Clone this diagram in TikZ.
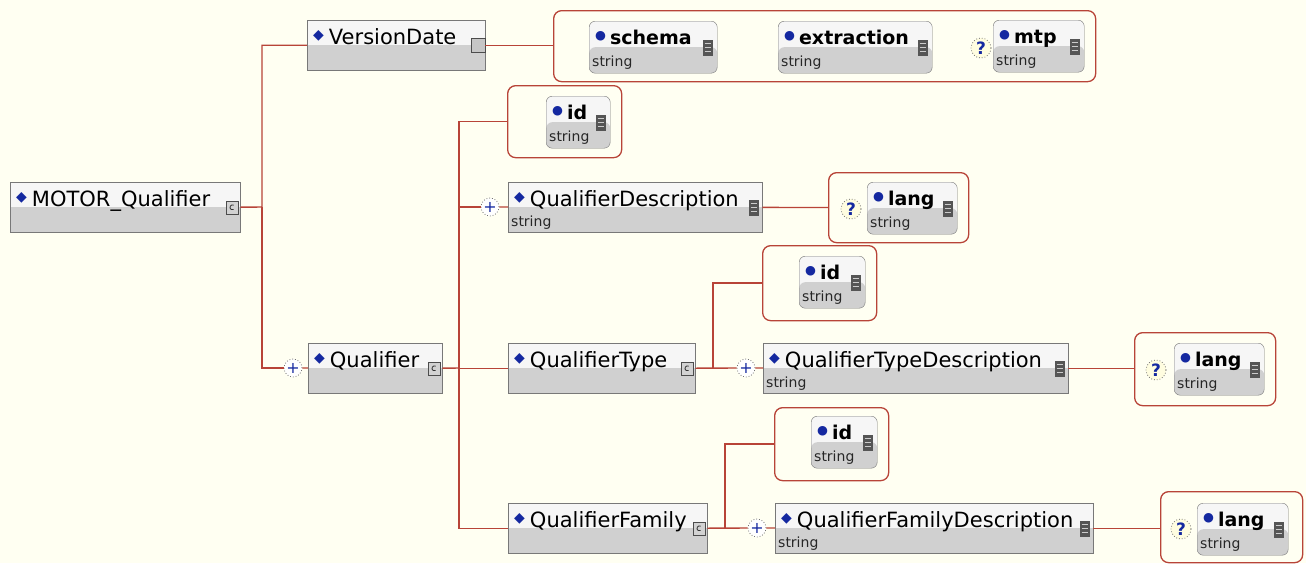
\documentclass[tikz,border=0pt]{standalone}
\usepackage{fontspec}
\setmainfont{DejaVu Sans}

\definecolor{bgcol}{RGB}{255,255,242}
\definecolor{linkred}{RGB}{184,68,56}
\definecolor{boxline}{RGB}{120,120,120}
\definecolor{boxtop}{RGB}{246,246,246}
\definecolor{boxgray}{RGB}{208,208,208}
\definecolor{xsblue}{RGB}{20,40,160}
\definecolor{icondark}{RGB}{85,85,85}

\newcommand{\xsdiam}{\raisebox{5pt}{\fontsize{14}{14}\selectfont\textcolor{xsblue}{◆}}}
\newcommand{\xsdot}{\raisebox{5pt}{\fontsize{12.5}{12}\selectfont\textcolor{xsblue}{●}}}

\begin{document}
\begin{tikzpicture}[
    x=1pt, y=1pt,
    elem/.style={draw=boxline,fill=boxtop,anchor=north west,inner sep=0pt,minimum height=50pt,
        path picture={\fill[boxgray] (path picture bounding box.west) rectangle (path picture bounding box.south east);}},
    attr/.style={elem,rounded corners=6pt,minimum height=52pt},
    grp/.style={draw=linkred,line width=1.3pt,rounded corners=8pt,anchor=north west,inner sep=0pt},
    etitle/.style={anchor=base west,inner sep=0pt,font=\fontsize{21}{24}\selectfont},
    atitle/.style={anchor=base west,inner sep=0pt,font=\fontsize{19}{22}\selectfont\bfseries},
    typ/.style={anchor=base west,inner sep=0pt,font=\fontsize{14}{16}\selectfont,text=black!85},
    sicon/.style={anchor=east,draw=icondark,fill=icondark,minimum width=9pt,minimum height=15pt,inner sep=0pt,
        path picture={\foreach \k in {-4,0,4}
            \draw[gray!40,line width=1pt] ([shift={(1.5,\k)}]path picture bounding box.west) -- ([shift={(-1.5,\k)}]path picture bounding box.east);}},
    cicon/.style={anchor=east,draw=gray!60!black,fill=gray!35,minimum width=12pt,minimum height=13pt,inner sep=0pt,
        path picture={\draw[black!80,line width=0.8pt] ([shift={(1.5,2)}]path picture bounding box.center) arc (60:300:2.5);}},
    vicon/.style={anchor=east,draw=gray!60!black,fill=gray!45,minimum size=14pt,inner sep=0pt},
    plus/.style={circle,draw=gray!90!black,dotted,line width=0.8pt,fill=white,minimum size=18pt,inner sep=0pt,text=xsblue,font=\fontsize{16}{16}\selectfont},
    optq/.style={circle,draw=gray!90!black,dotted,line width=0.8pt,fill=yellow!12,minimum size=20pt,inner sep=0pt,text=xsblue,font=\fontsize{17}{17}\selectfont\bfseries},
    link/.style={draw=linkred,line width=1.4pt}
]
\path[use as bounding box,fill=bgcol] (0,0) rectangle (1306,-563);

% attribute groups
\foreach \n/\x/\y/\w/\h in {vgrp/553/10/542/71, qidgrp/507/85/114/72, qdgrp/828/172/140/70,
    qtidgrp/762/245/114/75, qtgrp/1134/332/141/73, qfidgrp/774/407/114/73, qfgrp/1160/491/142/71}
    \node[grp,minimum width=\w,minimum height=\h] (\n) at (\x,-\y) {};

% elements
\foreach \n/\x/\y/\w/\t in {motor/10/182/230/MOTOR\_Qualifier, vdate/307/20/178/VersionDate,
    qual/308/343/134/Qualifier, qdesc/508/182/254/QualifierDescription,
    qtype/508/343/187/QualifierType, qtdesc/763/343/305/QualifierTypeDescription,
    qfam/508/503/199/QualifierFamily, qfdesc/775/503/318/QualifierFamilyDescription} {
    \node[elem,minimum width=\w] (\n) at (\x,-\y) {};
    \node[etitle] (\n-t) at ([shift={(6,-24)}]\n.north west) {\xsdiam\hspace{5pt}\t};
}
\foreach \n in {qdesc,qtdesc,qfdesc} {
    \node[typ] (\n-s) at ([shift={(3,-44)}]\n.north west) {string};
    \node[sicon] (\n-i) at ([xshift=-4]\n.east) {};
}
\foreach \n in {motor,qual,qtype,qfam}
    \node[cicon] (\n-i) at ([xshift=-2]\n.east) {};
\node[vicon] (vdate-i) at (vdate.east) {};

% attributes
\foreach \n/\x/\y/\w/\t in {schema/589/21/128/schema, extr/778/21/154/extraction, mtp/993/20/91/mtp,
    qid/546/96/64/id, qdlang/867/182/90/lang, qtid/799/256/66/id,
    qtlang/1174/343/90/lang, qfid/811/416/66/id, qflang/1197/503/91/lang} {
    \node[attr,minimum width=\w] (\n) at (\x,-\y) {};
    \node[atitle] (\n-t) at ([shift={(6,-23)}]\n.north west) {\xsdot\hspace{4pt}\t};
    \node[typ] (\n-s) at ([shift={(3,-45)}]\n.north west) {string};
    \node[sicon] (\n-i) at ([xshift=-5]\n.east) {};
}

% optional markers
\node[optq] (vq) at (981,-48) {?};
\node[optq] (qdq) at (851,-209) {?};
\node[optq] (qtq) at (1156,-370) {?};
\node[optq] (qfq) at (1181,-529) {?};
\node[plus] (qplus) at (293,-368) {+};
\node[plus] (qdplus) at (490,-207) {+};
\node[plus] (qtplus) at (746,-368) {+};
\node[plus] (qfplus) at (757,-528) {+};

% connectors
\coordinate (mj) at (262,-207);
\draw[link] (motor.east) -- (mj) |- (vdate.west);
\draw[link] (mj) |- (qplus.west);
\draw[link] (qplus) -- (qual);
\draw[link] (vdate.east) -- (vdate.east -| vgrp.west);

\coordinate (qj) at (459,-368);
\draw[link] (qual.east) -- (qj);
\foreach \t in {qidgrp,qdplus,qtype,qfam}
    \draw[link] (qj) |- (\t.west);
\draw[link] (qdplus) -- (qdesc);
\draw[link] (qdesc) -- (qdgrp);

\coordinate (tj) at (713,-368);
\draw[link] (qtype.east) -- (qtplus.west);
\draw[link] (tj) |- (qtidgrp.west);
\draw[link] (qtplus) -- (qtdesc);
\draw[link] (qtdesc.east) -- (qtdesc.east -| qtgrp.west);

\coordinate (fj) at (725,-528);
\draw[link] (qfam.east) -- (qfplus.west);
\draw[link] (fj) |- (qfidgrp.west);
\draw[link] (qfplus) -- (qfdesc);
\draw[link] (qfdesc.east) -- (qfdesc.east -| qfgrp.west);
\end{tikzpicture}
\end{document}
